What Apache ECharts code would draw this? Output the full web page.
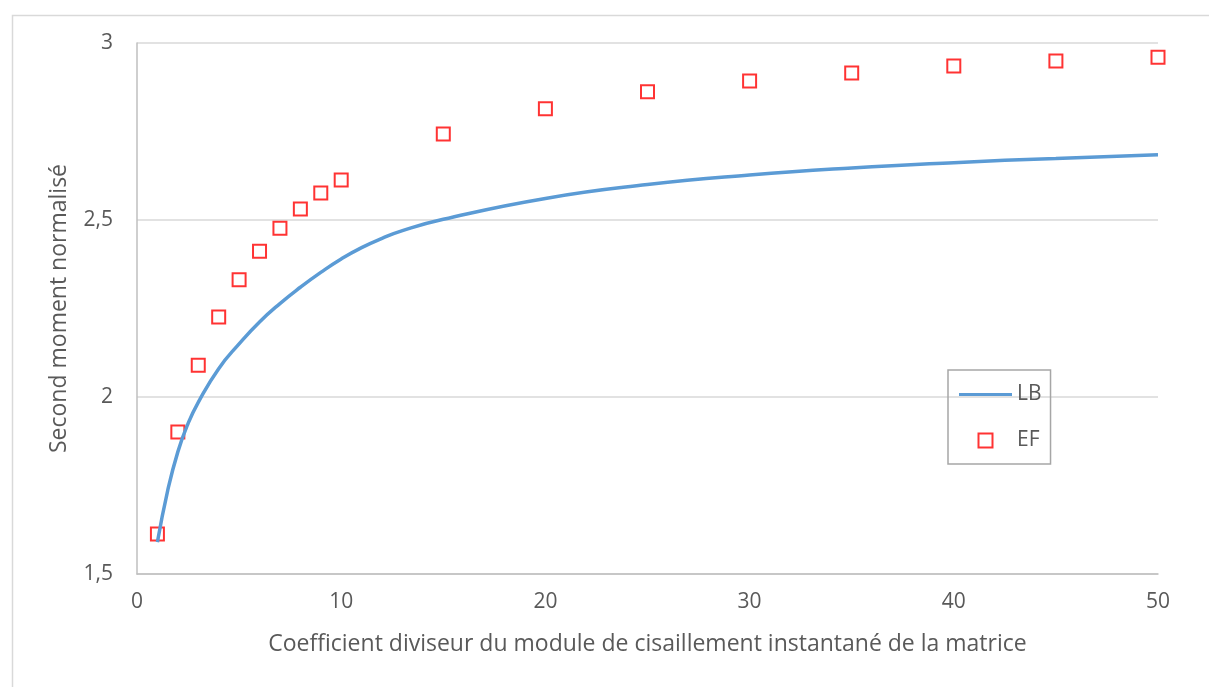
<!DOCTYPE html>
<html>
<head>
<meta charset="utf-8">
<script src="https://cdn.jsdelivr.net/npm/echarts@6/dist/echarts.min.js"></script>
<style>
html,body{margin:0;padding:0;background:#fff;}
#chart{width:1209px;height:687px;}
</style>
</head>
<body>
<div id="chart"></div>
<script>
// LB curve readings (x, y)
const lbX = [1, 1.5, 2, 2.5, 3, 4, 5, 6, 7, 8, 9, 10, 11, 12, 13, 15, 20, 25, 30, 35, 40, 45, 50];
const lbY = [1.590, 1.735, 1.845, 1.925, 1.985, 2.080, 2.150, 2.212, 2.264, 2.310, 2.352, 2.390, 2.422, 2.448, 2.470, 2.502, 2.561, 2.600, 2.627, 2.647, 2.662, 2.674, 2.684];
// EF points
const efX = [1, 2, 3, 4, 5, 6, 7, 8, 9, 10, 15, 20, 25, 30, 35, 40, 45, 50];
const efY = [1.613, 1.901, 2.090, 2.226, 2.331, 2.412, 2.477, 2.531, 2.576, 2.613, 2.743, 2.814, 2.862, 2.893, 2.915, 2.935, 2.949, 2.960];
const xTitle = "Coefficient diviseur du module de cisaillement instantané de la matrice";
const yTitle = "Second moment normalisé";

const font = "'Open Sans', 'DejaVu Sans', sans-serif";
const chart = echarts.init(document.getElementById('chart'));
chart.setOption({
  animation: false,
  graphic: [{
    type: 'rect', left: 10, top: 13, silent: true,
    shape: {width: 1220, height: 700},
    style: {fill: 'none', stroke: '#d9d9d9', lineWidth: 1.5}
  }],
  grid: {left: 137, right: 51, top: 43, bottom: 113},
  xAxis: {
    type: 'value', min: 0, max: 50, interval: 10,
    name: xTitle, nameLocation: 'middle', nameGap: 59,
    nameTextStyle: {color: '#595959', fontSize: 23, fontFamily: font},
    axisLine: {show: true, lineStyle: {color: '#bfbfbf', width: 1.5}},
    axisTick: {show: false},
    splitLine: {show: false},
    axisLabel: {color: '#595959', fontSize: 21, fontFamily: font, margin: 18}
  },
  yAxis: {
    type: 'value', min: 1.5, max: 3, interval: 0.5,
    name: yTitle, nameLocation: 'middle', nameGap: 66,
    nameTextStyle: {color: '#595959', fontSize: 23, fontFamily: font},
    axisLine: {show: true, lineStyle: {color: '#bfbfbf', width: 1.5}},
    axisTick: {show: false},
    splitLine: {show: true, lineStyle: {color: '#d9d9d9', width: 1.5}},
    axisLabel: {color: '#595959', fontSize: 21, fontFamily: font, margin: 24,
      formatter: v => String(v).replace('.', ',')}
  },
  legend: {
    orient: 'vertical', left: 948, top: 370,
    padding: [14, 9, 13, 11],
    itemWidth: 53, itemHeight: 14, itemGap: 25,
    borderColor: '#a6a6a6', borderWidth: 1.5,
    textStyle: {color: '#595959', fontSize: 21, fontFamily: font, lineHeight: 20},
    data: [
      {name: 'LB', icon: 'path://M0,0H53V3H0Z', symbolKeepAspect: true},
      {name: 'EF', icon: 'path://M0,0H10V10H0Z', symbolKeepAspect: true}
    ]
  },
  series: [
    {
      name: 'LB', type: 'line', smooth: 0.5, showSymbol: false, symbol: 'none',
      data: lbX.map((x, i) => [x, lbY[i]]),
      lineStyle: {color: '#5b9bd5', width: 3.5},
      itemStyle: {color: '#5b9bd5'}
    },
    {
      name: 'EF', type: 'scatter', symbol: 'rect', symbolSize: 13,
      data: efX.map((x, i) => [x, efY[i]]),
      itemStyle: {color: '#ffffff', borderColor: '#ff0000', borderWidth: 2}
    }
  ]
});
</script>
</body>
</html>
